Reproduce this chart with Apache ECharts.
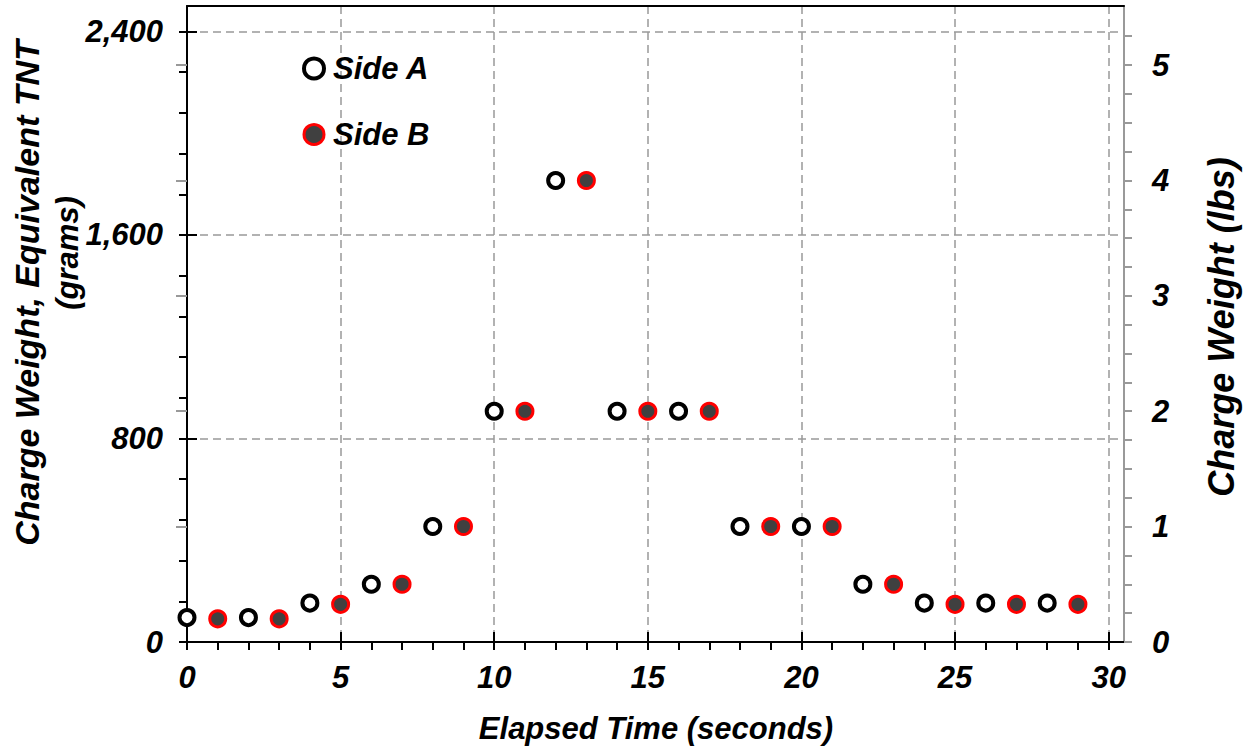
<!DOCTYPE html>
<html>
<head>
<meta charset="utf-8">
<script src="https://cdn.jsdelivr.net/npm/echarts@6/dist/echarts.min.js"></script>
<style>
html,body{margin:0;padding:0;background:#fff;}
#chart{width:1249px;height:755px;}
</style>
</head>
<body>
<div id="chart"></div>
<script>
// ---- data ----
const TIME_A = [0, 2, 4, 6, 8, 10, 12, 14, 16, 18, 20, 22, 24, 26, 28];
const TIME_B = [1, 3, 5, 7, 9, 11, 13, 15, 17, 19, 21, 23, 25, 27, 29];
const SIDE_A_GRAMS = [96, 96, 153, 227, 454, 907, 1814, 907, 907, 454, 454, 227, 153, 153, 153];
const SIDE_B_GRAMS = [91, 91, 148, 227, 454, 907, 1814, 907, 907, 454, 454, 227, 148, 148, 148];
const SERIES_NAMES = ['Side A', 'Side B'];

// ---- axis ticks / labels ----
const X_TICKS = [0,1,2,3,4,5,6,7,8,9,10,11,12,13,14,15,16,17,18,19,20,21,22,23,24,25,26,27,28,29,30];
const X_LABELS = [0, 5, 10, 15, 20, 25, 30];
const X_GRID = [5, 10, 15, 20, 25, 30];
const Y_G_LABELS = [0, 800, 1600, 2400];
const Y_G_GRID = [800, 1600, 2400];
const Y_G_TICKS = [0,160,320,480,640,800,960,1120,1280,1440,1600,1760,1920,2080,2240,2400];
const Y_LB_LABELS = [0, 1, 2, 3, 4, 5];
const Y_LB_MAJOR = [1, 2, 3, 4, 5];
const Y_LB_TICKS = [0,0.25,0.5,0.75,1,1.25,1.5,1.75,2,2.25,2.5,2.75,3,3.25,3.5,3.75,4,4.25,4.5,4.75,5,5.25];
const X_MAX = 30.5;
const Y_G_MAX = 2500;
const GRAMS_PER_LB = 453.59237;

const FONT = '"Liberation Sans", Arial, sans-serif';
const labelStyle = {fontFamily: FONT, fontSize: 31, fontWeight: 'bold', fontStyle: 'italic', color: '#000'};
const grid = {type: [8, 5], color: '#999', width: 1.5};

const chart = echarts.init(document.getElementById('chart'), null, {renderer: 'svg'});

const option = {
  animation: false,
  backgroundColor: '#fff',
  grid: {left: 187, right: 125, top: 6, bottom: 113, containLabel: false, outerBoundsMode: 'none'},
  legend: {
    orient: 'vertical', left: 297, top: 48, itemWidth: 28, itemHeight: 20, itemGap: 35,
    data: [
      {name: SERIES_NAMES[0], itemStyle: {borderWidth: 4}},
      {name: SERIES_NAMES[1], itemStyle: {borderWidth: 3}}
    ],
    textStyle: labelStyle,
    selectedMode: false
  },
  xAxis: [
    {
      type: 'value', min: 0, max: X_MAX, position: 'bottom',
      axisLine: {show: true, onZero: false, lineStyle: {color: '#000', width: 2}},
      axisTick: {show: true, customValues: X_TICKS, length: 8, lineStyle: {color: '#000', width: 2}},
      axisLabel: Object.assign({customValues: X_LABELS, margin: 20}, labelStyle),
      splitLine: {show: false}
    },
    {
      type: 'value', min: 0, max: X_MAX, position: 'bottom',
      axisLine: {show: false},
      axisTick: {show: true, inside: true, customValues: X_GRID, length: 10, lineStyle: {color: '#000', width: 2}},
      axisLabel: {show: false},
      splitLine: {show: true, lineStyle: grid}
    },
    {
      type: 'value', min: 0, max: X_MAX, position: 'top',
      axisLine: {show: true, onZero: false, lineStyle: {color: '#000', width: 2}},
      axisTick: {show: false}, axisLabel: {show: false}, splitLine: {show: false}
    }
  ],
  yAxis: [
    {
      type: 'value', min: 0, max: Y_G_MAX, position: 'left',
      axisLine: {show: true, onZero: false, lineStyle: {color: '#000', width: 2}},
      axisTick: {show: true, customValues: Y_G_TICKS, length: 8, lineStyle: {color: '#000', width: 2}},
      axisLabel: Object.assign({customValues: Y_G_LABELS, margin: 24,
        formatter: v => Number(v).toLocaleString('en-US')}, labelStyle),
      splitLine: {show: false}
    },
    {
      type: 'value', min: 0, max: Y_G_MAX, position: 'left',
      axisLine: {show: false},
      axisTick: {show: true, inside: true, customValues: Y_G_GRID, length: 10, lineStyle: {color: '#000', width: 2}},
      axisLabel: {show: false},
      splitLine: {show: true, lineStyle: grid}
    },
    {
      type: 'value', min: 0, max: Y_G_MAX / GRAMS_PER_LB, position: 'right',
      axisLine: {show: true, onZero: false, lineStyle: {color: '#999', width: 2}},
      axisTick: {show: true, customValues: Y_LB_TICKS, length: 8, lineStyle: {color: '#999', width: 2}},
      axisLabel: Object.assign({customValues: Y_LB_LABELS, margin: 28}, labelStyle),
      splitLine: {show: false}
    },
    {
      type: 'value', min: 0, max: Y_G_MAX / GRAMS_PER_LB, position: 'right',
      axisLine: {show: false},
      axisTick: {show: true, inside: true, customValues: Y_LB_MAJOR, length: 11, lineStyle: {color: '#999', width: 2}},
      axisLabel: {show: false},
      splitLine: {show: false}
    }
  ],
  series: [
    {
      name: SERIES_NAMES[0], type: 'scatter', xAxisIndex: 0, yAxisIndex: 0,
      symbol: 'circle', symbolSize: 15,
      itemStyle: {color: '#fff', borderColor: '#000', borderWidth: 4, opacity: 1},
      emphasis: {disabled: true},
      data: TIME_A.map((t, i) => [t, SIDE_A_GRAMS[i]]),
      z: 5
    },
    {
      name: SERIES_NAMES[1], type: 'scatter', xAxisIndex: 0, yAxisIndex: 0,
      symbol: 'circle', symbolSize: 16,
      itemStyle: {color: '#404040', borderColor: '#ff0000', borderWidth: 3, opacity: 1},
      emphasis: {disabled: true},
      data: TIME_B.map((t, i) => [t, SIDE_B_GRAMS[i]]),
      z: 5
    }
  ],
  graphic: [
    {type: 'text', x: 656, y: 728, silent: true,
     style: {text: 'Elapsed Time (seconds)', font: 'italic bold 31px ' + FONT, fill: '#000', align: 'center', verticalAlign: 'middle'}},
    {type: 'text', x: 27, y: 293, rotation: Math.PI / 2, silent: true,
     style: {text: 'Charge Weight, Equivalent TNT', font: 'italic bold 34px ' + FONT, fill: '#000', align: 'center', verticalAlign: 'middle'}},
    {type: 'text', x: 67, y: 253, rotation: Math.PI / 2, silent: true,
     style: {text: '(grams)', font: 'italic bold 31px ' + FONT, fill: '#000', align: 'center', verticalAlign: 'middle'}},
    {type: 'text', x: 1221, y: 327, rotation: Math.PI / 2, silent: true,
     style: {text: 'Charge Weight (lbs)', font: 'italic bold 36px ' + FONT, fill: '#000', align: 'center', verticalAlign: 'middle'}}
  ]
};
chart.setOption(option);
</script>
</body>
</html>
